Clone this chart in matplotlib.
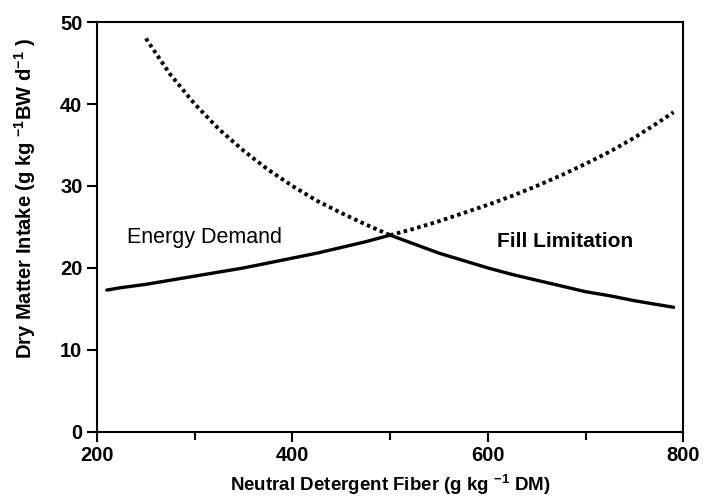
import matplotlib
matplotlib.use('Agg')
import matplotlib.pyplot as plt
from matplotlib.ticker import MultipleLocator

plt.rcParams['font.family'] = ['Liberation Sans', 'DejaVu Sans']
plt.rcParams['mathtext.fontset'] = 'custom'
plt.rcParams['mathtext.rm'] = 'Liberation Sans:bold'
plt.rcParams['mathtext.default'] = 'rm'

# 能量需求曲线 (NDF, DMI)
ndf_energy = [210, 225, 250, 275, 300, 325, 350, 375, 400, 425, 450, 475, 500,
              525, 550, 575, 600, 625, 650, 675, 700, 725, 750, 775, 790]
dmi_energy = [17.3, 17.6, 18.0, 18.5, 19.0, 19.5, 20.0, 20.6, 21.2, 21.8, 22.5, 23.2, 24.0,
              24.8, 25.7, 26.7, 27.7, 28.8, 30.0, 31.3, 32.7, 34.2, 35.9, 37.8, 39.0]

# 瘤胃充满限制曲线
ndf_fill = [250, 275, 300, 325, 350, 375, 400, 425, 450, 475, 500,
            525, 550, 575, 600, 625, 650, 675, 700, 725, 750, 775, 790]
dmi_fill = [48.0, 43.6, 40.0, 36.9, 34.3, 32.0, 30.0, 28.2, 26.7, 25.3, 24.0,
            22.9, 21.8, 20.9, 20.0, 19.2, 18.5, 17.8, 17.1, 16.6, 16.0, 15.5, 15.2]

ndf_cross = 500
x_ticks = [200, 400, 600, 800]
y_ticks = [0, 10, 20, 30, 40, 50]

fig = plt.figure(figsize=(7.03, 5.01), dpi=100)
ax = fig.add_axes([0.138, 0.138, 0.834, 0.818])

# 交点左右分成实线和虚线
e_lo = [i for i, x in enumerate(ndf_energy) if x <= ndf_cross]
e_hi = [i for i, x in enumerate(ndf_energy) if x >= ndf_cross]
f_lo = [i for i, x in enumerate(ndf_fill) if x <= ndf_cross]
f_hi = [i for i, x in enumerate(ndf_fill) if x >= ndf_cross]

dot = dict(color='black', lw=2.8, linestyle=(0, (0.9, 0.9)), solid_capstyle='butt')
solid = dict(color='black', lw=2.4, solid_capstyle='round')

ax.plot([ndf_energy[i] for i in e_lo], [dmi_energy[i] for i in e_lo], **solid)
ax.plot([ndf_energy[i] for i in e_hi], [dmi_energy[i] for i in e_hi], **dot)
ax.plot([ndf_fill[i] for i in f_lo], [dmi_fill[i] for i in f_lo], **dot)
ax.plot([ndf_fill[i] for i in f_hi], [dmi_fill[i] for i in f_hi], **solid)

ax.text(231, 23.7, 'Energy Demand', fontsize=15.5, va='center', ha='left')
ax.text(609, 23.2, 'Fill Limitation', fontsize=15, fontweight='bold',
        va='center', ha='left')

ax.set_xlim(200, 800)
ax.set_ylim(0, 50)
ax.set_xticks(x_ticks)
ax.set_yticks(y_ticks)
ax.xaxis.set_minor_locator(MultipleLocator(100))
ax.tick_params(which='both', direction='out', width=1.5, labelsize=14.5)
ax.tick_params(which='major', length=7)
ax.tick_params(which='minor', length=6)
for lab in ax.get_xticklabels() + ax.get_yticklabels():
    lab.set_fontweight('bold')
for s in ax.spines.values():
    s.set_linewidth(1.5)

ax.set_xlabel('Neutral Detergent Fiber (g kg $^{-1}$ DM)', fontsize=13.5,
              fontweight='bold')
ax.xaxis.set_label_coords(0.5, -0.1)
ax.set_ylabel('Dry Matter Intake (g kg $^{-1}$BW d$^{-1}$ )', fontsize=14.5,
              fontweight='bold')
ax.yaxis.set_label_coords(-0.1, 0.57)

fig.savefig('out.png', dpi=100)
